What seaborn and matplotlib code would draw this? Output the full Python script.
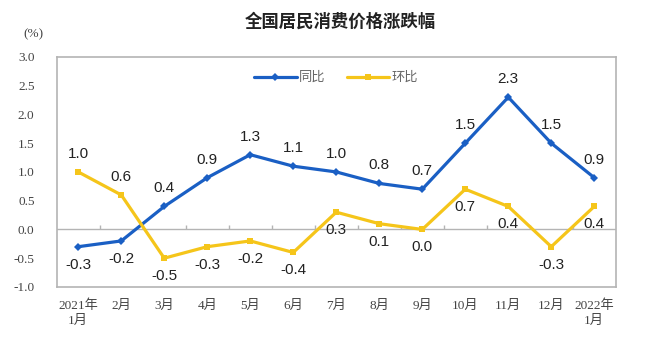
import seaborn as sns
import pandas as pd
import numpy as np
import matplotlib.pyplot as plt

sns.set_style("white")
plt.rcParams['font.family'] = ['Noto Sans CJK SC', 'DejaVu Sans']

months = ["2021年\n1月", "2月", "3月", "4月", "5月", "6月", "7月",
          "8月", "9月", "10月", "11月", "12月", "2022年\n1月"]
yoy = [-0.3, -0.2, 0.4, 0.9, 1.3, 1.1, 1.0, 0.8, 0.7, 1.5, 2.3, 1.5, 0.9]   # 同比
mom = [1.0, 0.6, -0.5, -0.3, -0.2, -0.4, 0.3, 0.1, 0.0, 0.7, 0.4, -0.3, 0.4]  # 环比
# label above (+1) or below (-1) the point
yoy_side = [-1, -1, 1, 1, 1, 1, 1, 1, 1, 1, 1, 1, 1]
mom_side = [1, 1, -1, -1, -1, -1, -1, -1, -1, -1, -1, -1, -1]

blue = "#1a5fc4"
yellow = "#f5c51a"
grey = "#b4b4b4"

df = pd.DataFrame({"x": np.arange(len(months)), "同比": yoy, "环比": mom})
long = df.melt(id_vars="x", var_name="类型", value_name="值")

fig = plt.figure(figsize=(6.6, 3.56), dpi=100)
ax = fig.add_axes([0.086, 0.194, 0.847, 0.646])

sns.lineplot(data=long, x="x", y="值", hue="类型", style="类型",
             palette={"同比": blue, "环比": yellow},
             markers={"同比": "D", "环比": "s"}, dashes=False,
             markersize=4.5, markeredgewidth=0, linewidth=2.3, ax=ax)

for i in range(len(months)):
    ax.annotate(f"{yoy[i]:.1f}", (i, yoy[i]), xytext=(0, 13 * yoy_side[i]),
                textcoords="offset points", ha="center", va="center",
                family=['Liberation Sans'], fontsize=11, color="#222222")
    ax.annotate(f"{mom[i]:.1f}", (i, mom[i]), xytext=(0, 13 * mom_side[i]),
                textcoords="offset points", ha="center", va="center",
                family=['Liberation Sans'], fontsize=11, color="#222222")

# zero line with small ticks between categories
ax.axhline(0, color=grey, lw=1, zorder=0)
ax.vlines(np.arange(len(months) - 1) + 0.5, 0, 0.08, color=grey, lw=1, zorder=0)

ax.set_xlim(-0.5, len(months) - 0.5)
ax.set_ylim(-1.0, 3.0)
ax.set_yticks(np.arange(-1.0, 3.01, 0.5))
ax.set_yticklabels([f"{v:.1f}" for v in np.arange(-1.0, 3.01, 0.5)],
                   family=['Liberation Serif', 'Noto Sans CJK SC'], fontsize=9.5, color="#444444")
ax.set_xticks(range(len(months)))
ax.set_xticklabels(months, family=['Liberation Serif', 'Noto Sans CJK SC'],
                   fontsize=9.5, color="#444444", linespacing=1.3)
ax.tick_params(axis="both", length=0)
ax.tick_params(axis="y", pad=16)
ax.tick_params(axis="x", pad=9)
ax.set_xlabel("")
ax.set_ylabel("")

for s in ax.spines.values():
    s.set_color(grey)
    s.set_linewidth(1.2)

ax.legend(title=None, loc="upper center", bbox_to_anchor=(0.5, 0.99), ncol=2,
          frameon=False, fontsize=9.5, handlelength=3.2, handletextpad=0.2,
          columnspacing=1.6, labelcolor="#666666")

fig.text(0.515, 0.94, "全国居民消费价格涨跌幅", ha="center", va="center",
         fontsize=12.5, fontweight="bold", color="#222222")
fig.text(0.05, 0.905, "(%)", ha="center", va="center",
         family=['Liberation Serif'], fontsize=9.5, color="#444444")

fig.savefig("out.png", dpi=100)
